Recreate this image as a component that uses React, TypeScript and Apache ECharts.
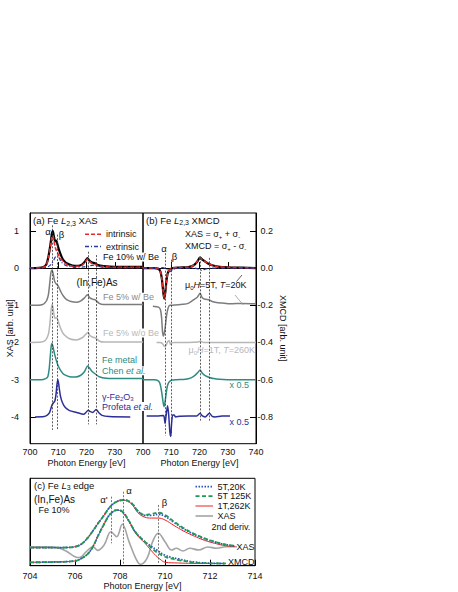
import React, { useEffect, useRef } from 'react';
import * as echarts from 'echarts';

const FONT = "'Liberation Sans', Arial, Helvetica, sans-serif";

// ---------- tick values ----------
const xasTicks = [-4, -3, -2, -1, 0, 1];
const xmcdTicks = [-0.8, -0.6, -0.4, -0.2, 0, 0.2];

// ---------- panel (a) XAS spectra [eV, value] ----------
const a10Total = [[700,0],[702,0],[704,0.01],[705,0.04],[705.8,0.1],[706.5,0.3],[707.2,0.62],[707.7,0.9],[708.05,1.0],[708.5,0.84],[708.9,0.72],[709.3,0.74],[709.7,0.64],[710.3,0.48],[711.2,0.3],[712,0.2],[713,0.13],[715,0.07],[717,0.06],[718.5,0.1],[719.5,0.18],[720.3,0.27],[721,0.2],[722,0.15],[723,0.13],[724,0.08],[726,0.05],[730,0.03],[735,0.03],[740,0.03]];
const a10Intrinsic = [[700,0],[704,0.01],[705,0.03],[705.8,0.08],[706.5,0.27],[707.2,0.58],[707.7,0.82],[708.05,0.88],[708.5,0.72],[708.9,0.56],[709.3,0.48],[709.7,0.41],[710.3,0.32],[711.2,0.22],[712,0.15],[713,0.1],[715,0.05],[717,0.05],[718.5,0.08],[719.5,0.15],[720.3,0.24],[721,0.18],[722,0.12],[723,0.1],[724,0.06],[726,0.04],[730,0.02],[740,0.02]];
const a10Extrinsic = [[700,0],[705,0.01],[706.5,0.04],[707.5,0.1],[708.3,0.2],[709,0.3],[709.6,0.35],[710.2,0.29],[711,0.17],[712,0.1],[713.5,0.05],[716,0.02],[719,0.03],[721,0.06],[722.5,0.08],[724,0.05],[726,0.02],[730,0.01],[740,0.01]];
const a5Be = [[700,-1.0],[703,-1.0],[704.5,-0.98],[705.3,-0.93],[705.9,-0.87],[706.5,-0.72],[707,-0.4],[707.4,-0.12],[707.8,-0.05],[708.2,-0.15],[708.7,-0.35],[709.3,-0.43],[709.8,-0.46],[710.3,-0.53],[711,-0.65],[711.8,-0.75],[713,-0.85],[714.5,-0.9],[716.5,-0.92],[718,-0.88],[719.3,-0.8],[720.3,-0.72],[721.2,-0.8],[722.3,-0.84],[723.2,-0.86],[724.5,-0.95],[726,-0.98],[730,-0.98],[735,-0.98],[740,-0.98]];
const a5NoBe = [[700,-2.0],[704,-1.99],[705.3,-1.95],[706,-1.88],[706.6,-1.75],[707.1,-1.45],[707.5,-1.1],[707.9,-0.98],[708.3,-1.15],[708.8,-1.35],[709.4,-1.33],[709.9,-1.4],[710.5,-1.55],[711.3,-1.7],[712.2,-1.8],[714,-1.9],[716.5,-1.93],[718.3,-1.88],[719.5,-1.8],[720.5,-1.73],[721.3,-1.82],[722.3,-1.86],[723.2,-1.88],[724.5,-1.96],[726,-1.99],[740,-1.99]];
const aFeMetal = [[700,-3.0],[704,-3.0],[705.5,-2.97],[706.3,-2.92],[706.8,-2.7],[707.2,-2.35],[707.5,-2.1],[707.75,-2.03],[708.1,-2.1],[708.6,-2.28],[709.3,-2.48],[710,-2.63],[711,-2.77],[712,-2.86],[714,-2.92],[716,-2.93],[718,-2.88],[719.3,-2.78],[720.4,-2.63],[721,-2.68],[722,-2.78],[723,-2.84],[724.5,-2.92],[727,-2.96],[732,-2.97],[740,-2.97]];
const aFe2O3 = [[701.8,-4.0],[705,-3.99],[706,-3.96],[706.8,-3.9],[707.3,-3.8],[707.8,-3.68],[708.3,-3.62],[708.8,-3.57],[709.2,-3.4],[709.6,-3.1],[709.9,-3.0],[710.3,-3.2],[710.8,-3.45],[711.5,-3.62],[712.5,-3.75],[714,-3.83],[716.5,-3.88],[719,-3.93],[719.8,-3.88],[720.6,-3.82],[721.4,-3.86],[722.2,-3.88],[723.4,-3.8],[724.3,-3.88],[725.5,-3.96],[728,-3.99],[735.5,-4.0]];
const aMarkers = [[707.9, 1.15, -4.35], [709.7, 0.9, -4.35], [720.6, 0.44, -4.2], [723.4, 0.35, -4.2]];

// ---------- panel (b) XMCD spectra [eV, value] ----------
const b10Total = [[700,0],[704,0],[705.5,-0.005],[706.2,-0.02],[706.7,-0.06],[707.1,-0.12],[707.5,-0.165],[707.9,-0.13],[708.3,-0.07],[708.8,-0.025],[709.5,-0.008],[710.5,0],[713,0.003],[716,0.005],[718,0.015],[719.2,0.035],[720.2,0.057],[721,0.045],[722,0.035],[723,0.025],[724.5,0.015],[726.5,0.008],[730,0.004],[735,0.002],[740,0]];
const b10Intrinsic = [[700,0],[704,0],[705.5,-0.005],[706.2,-0.02],[706.7,-0.06],[707.1,-0.12],[707.5,-0.16],[707.9,-0.13],[708.3,-0.07],[708.8,-0.025],[709.5,-0.008],[710.5,0],[713,0.003],[716,0.005],[718,0.015],[719.2,0.035],[720.2,0.055],[721,0.045],[722,0.035],[723,0.025],[724.5,0.015],[726.5,0.008],[730,0.004],[740,0]];
const b10Extrinsic = [[700,0],[705,0],[707,0.002],[708.5,-0.008],[709.5,-0.02],[710.3,-0.012],[711.5,-0.003],[714,0],[718,0],[719.5,-0.005],[720.8,-0.012],[722,-0.006],[724,0],[740,0]];
const b5Be = [[703.5,-0.205],[705.5,-0.21],[706.2,-0.225],[706.6,-0.27],[706.9,-0.34],[707.2,-0.365],[707.6,-0.345],[708,-0.3],[708.4,-0.25],[708.9,-0.215],[709.5,-0.2],[710.2,-0.2],[711.5,-0.198],[714,-0.195],[716,-0.19],[718,-0.17],[719.3,-0.155],[720.2,-0.135],[721,-0.16],[722,-0.168],[723.3,-0.17],[724.5,-0.18],[726,-0.185],[728,-0.188],[731,-0.192],[735,-0.19],[740,-0.192]];
const b5NoBe = [[704.8,-0.4],[706,-0.4],[706.8,-0.405],[707.4,-0.418],[707.9,-0.42],[708.3,-0.41],[708.8,-0.395],[709.3,-0.39],[709.7,-0.41],[710.2,-0.402],[711,-0.4],[716,-0.4],[719.5,-0.398],[720.3,-0.393],[721.5,-0.4],[740,-0.4]];
const bFeMetal = [[700,-0.6],[704,-0.6],[705.3,-0.605],[706,-0.62],[706.6,-0.665],[707.1,-0.72],[707.45,-0.745],[707.8,-0.72],[708.2,-0.675],[708.7,-0.63],[709.4,-0.61],[710.3,-0.602],[712,-0.6],[715,-0.598],[717,-0.59],[718.5,-0.575],[719.5,-0.56],[720.2,-0.548],[721,-0.565],[722,-0.578],[723.5,-0.588],[725,-0.594],[727,-0.598],[730,-0.6],[740,-0.6]];
const bFe2O3 = [[701.3,-0.795],[705,-0.795],[707.2,-0.792],[707.5,-0.8],[707.8,-0.835],[708.2,-0.79],[708.7,-0.74],[709.1,-0.79],[709.5,-0.88],[709.8,-0.905],[710.1,-0.84],[710.5,-0.79],[711,-0.79],[711.5,-0.8],[713,-0.797],[716,-0.795],[719,-0.795],[720.2,-0.78],[721,-0.795],[722,-0.8],[723.5,-0.78],[724.5,-0.797],[725.5,-0.8],[728,-0.795],[730.8,-0.795]];
const bMarkers = [[707.8, 0.08, -0.9], [709.9, 0.045, -0.9], [720.2, 0.055, -0.82], [723.3, 0.055, -0.82]];

// ---------- panel (c) L3 edge [eV, arb] ----------
const cXas20K = [[704,20.6],[705,20.6],[705.6,20.8],[706,21.7],[706.3,25],[706.6,33],[706.8,40],[707.04,49],[707.3,58],[707.5,65.5],[707.8,72.5],[708.15,75.2],[708.5,71.7],[708.8,62.5],[709.1,57.5],[709.4,57.5],[709.7,58.8],[710,56.3],[710.4,49.5],[710.8,42.5],[711.2,37],[711.6,32.5],[711.9,29.5],[712.3,26.5],[712.6,24.5],[713.1,22.5]];
const cXas125K = [[704,20.6],[705,20.6],[705.6,20.8],[706,21.7],[706.3,25],[706.6,33],[706.8,40],[707.04,49],[707.3,58],[707.5,65.5],[707.8,72.5],[708.15,75.2],[708.5,71.7],[708.8,62.5],[709.1,58],[709.4,59.2],[709.7,60.6],[710,58],[710.4,50.5],[710.8,43.5],[711.2,37.6],[711.6,33],[711.9,29.8],[712.3,26.8],[712.6,24.7],[713.1,22.6]];
const cXas262K = [[704,20.6],[705,20.6],[705.6,20.8],[706,21.7],[706.3,25],[706.6,33],[706.8,40],[707.04,49],[707.3,58],[707.5,65.5],[707.8,72.5],[708.15,75],[708.5,71],[708.8,60.5],[709.1,55.5],[709.4,54.5],[709.7,54.5],[710,52.3],[710.4,46],[710.8,40],[711.2,35],[711.6,30.5],[711.9,27.8],[712.3,25],[712.6,23.2],[713.1,21.8]];
const cXmcd20K = [[704,3.9],[705,4.2],[706,5.4],[706.3,8.5],[706.6,14.5],[706.8,22],[707.04,35],[707.3,48],[707.5,57],[707.7,62],[707.85,63.7],[708.1,62],[708.4,51],[708.7,38],[709.1,27.5],[709.4,22],[709.6,18.5],[710,12],[710.3,9.5],[710.6,7.7],[711.2,4.5],[711.9,2.9],[712.7,2.5]];
const cXmcd125K = [[704,3.9],[705,4.2],[706,5.4],[706.3,8.5],[706.6,14.5],[706.8,22],[707.04,35],[707.3,48],[707.5,57],[707.7,62],[707.85,63.7],[708.1,62],[708.4,51],[708.7,38],[709.1,27.5],[709.4,20.5],[709.6,16],[710,10.3],[710.3,8],[710.6,6.5],[711.2,4],[711.9,2.8],[712.7,2.5]];
const cXmcd262K = [[704,3.9],[705,4.2],[706,5.4],[706.3,8.5],[706.6,14.5],[706.8,22],[707.04,35],[707.3,48],[707.5,57],[707.7,62],[707.85,63.5],[708.1,61.5],[708.4,50.5],[708.7,37],[709.1,26],[709.4,17],[709.6,11.4],[709.85,6],[710,3.9],[710.6,3.1],[711.2,2.7],[711.9,2.6],[712.7,2.5]];
const cDeriv = [[704,21.7],[704.8,21.7],[705.2,20.8],[705.6,16.8],[706,10.3],[706.2,9.2],[706.5,16],[706.8,21.7],[707,17.5],[707.3,24],[707.6,38.9],[707.85,33.2],[708.1,47.4],[708.4,27.5],[708.7,8.5],[708.9,1.6],[709.2,8.5],[709.45,27.5],[709.7,37.1],[710,27.5],[710.3,18],[710.5,19.9],[710.8,16.8],[711.1,19.9],[711.5,18],[711.9,21.4],[712.3,19.9],[712.7,21.7],[713.2,21.7]];
const cMarkers = [[707.6, 79, 25.6], [708.15, 84.7, 2], [709.7, 69.5, 2]];

// ---------- colours ----------
const C_RED = '#e82a2a';
const C_BLUE = '#2b3a9e';
const C_GRAY = '#7c7c7c';
const C_LGRAY = '#b6b6b6';
const C_TEAL = '#2e8b82';
const C_NAVY = '#2c2e98';

function richFor(color: string, size: number) {
  const base = { fill: color, color, fontSize: size, fontFamily: FONT };
  return {
    n: { ...base },
    i: { ...base, fontStyle: 'italic' },
    s: { ...base, fontSize: Math.round(size * 0.72), padding: [Math.round(size * 0.5), 0, 0, 0] },
  };
}

function T(x: number, y: number, text: string, color: string, size = 9, align = 'left', extra: any = {}) {
  return {
    type: 'text', x, y, z: 20, silent: true,
    style: { text, fill: color, fontSize: size, fontFamily: FONT, align, verticalAlign: 'middle', rich: richFor(color, size), ...extra },
  };
}
function L(x1: number, y1: number, x2: number, y2: number, stroke: string, lineWidth = 1, lineDash: any = null) {
  return { type: 'line', z: 20, silent: true, shape: { x1, y1, x2, y2 }, style: { stroke, lineWidth, lineDash } };
}

function markers(list: number[][], color = '#333') {
  return {
    silent: true, symbol: ['none', 'none'], label: { show: false },
    lineStyle: { type: [2, 1.5], color, width: 0.8 },
    data: list.map(([x, y1, y2]) => [{ coord: [x, y1] }, { coord: [x, y2] }]),
  };
}

function line(data: number[][], xi: number, color: string, width: number, type: any = 'solid', smooth = 0.25, extra: any = {}) {
  return {
    type: 'line', xAxisIndex: xi, yAxisIndex: xi, data, showSymbol: false, symbol: 'none', smooth,
    lineStyle: { color, width, type }, silent: true, ...extra,
  };
}

export default function App() {
  const ref = useRef<HTMLDivElement>(null);
  useEffect(() => {
    if (!ref.current) return;
    const chart = echarts.init(ref.current, null, { renderer: 'svg' });
    const axLine = { show: true, lineStyle: { color: '#000', width: 1 } };
    const tick = { show: true, inside: true, length: 6, lineStyle: { color: '#000', width: 1 } };
    const lbl = { fontFamily: FONT, fontSize: 9, color: '#111' };
    const nameStyle = { fontFamily: FONT, fontSize: 9, color: '#111' };
    const gridBase = { show: true, borderColor: '#000', borderWidth: 1, backgroundColor: 'transparent', containLabel: false, outerBoundsMode: 'none' };
    const xBase = (gi: number, min: number, max: number, interval: number, margin: number, nameGap: number, showMax: boolean) => ({
      gridIndex: gi, type: 'value', min, max, interval,
      axisLine: axLine, axisTick: tick, splitLine: { show: false },
      axisLabel: { ...lbl, margin, showMaxLabel: showMax, showMinLabel: true },
      name: 'Photon Energy [eV]', nameLocation: 'middle', nameGap, nameMoveOverlap: false, nameTextStyle: nameStyle,
    });

    const option: any = {
      animation: false,
      grid: [
        { ...gridBase, left: 30, top: 213, width: 113, height: 230.7 },
        { ...gridBase, left: 143, top: 213, width: 113, height: 230.7 },
        { ...gridBase, left: 30, top: 478.3, width: 225, height: 87.4 },
      ],
      xAxis: [
        xBase(0, 700, 740, 10, 4, 15, false),
        xBase(1, 700, 740, 10, 4, 15, true),
        xBase(2, 704, 714, 2, 6, 16, true),
      ],
      yAxis: [
        {
          gridIndex: 0, type: 'value', min: -4.72, max: 1.48,
          axisLine: axLine, axisTick: { ...tick, customValues: xasTicks }, splitLine: { show: false },
          axisLabel: { ...lbl, margin: 11, customValues: xasTicks },
          name: 'XAS [arb. unit]', nameLocation: 'middle', nameRotate: 90, nameGap: 16, nameMoveOverlap: false, nameTextStyle: nameStyle,
        },
        {
          gridIndex: 1, type: 'value', position: 'right', min: -0.944, max: 0.296,
          axisLine: axLine, axisTick: { ...tick, customValues: xmcdTicks }, splitLine: { show: false },
          axisLabel: { ...lbl, margin: 17, align: 'right', customValues: xmcdTicks, formatter: (v: number) => v.toFixed(1) },
          name: 'XMCD [arb. unit]', nameLocation: 'middle', nameRotate: -90, nameGap: 22.5, nameMoveOverlap: false, nameTextStyle: nameStyle,
        },
        {
          gridIndex: 2, type: 'value', min: 0, max: 100,
          axisLine: axLine, axisTick: { show: false }, axisLabel: { show: false }, splitLine: { show: false },
        },
      ],
      series: [
        // panel a
        line(a10Total, 0, '#000', 2.2, 'solid', 0.25, { markLine: markers(aMarkers) }),
        line(a10Intrinsic, 0, C_RED, 1.6, [4, 2]),
        line(a10Extrinsic, 0, C_BLUE, 1.2, [4, 2, 1, 2]),
        line(a5Be, 0, C_GRAY, 1.5),
        line(a5NoBe, 0, C_LGRAY, 1.5),
        line(aFeMetal, 0, C_TEAL, 1.5),
        line(aFe2O3, 0, C_NAVY, 1.5),
        // panel b
        line(b10Total, 1, '#000', 2.2, 'solid', 0.25, { markLine: markers(bMarkers) }),
        line(b10Intrinsic, 1, C_RED, 1.6, [4, 2]),
        line(b10Extrinsic, 1, C_BLUE, 1.2, [4, 2, 1, 2]),
        line(b5Be, 1, C_GRAY, 1.5),
        line(b5NoBe, 1, C_LGRAY, 1.5),
        line(bFeMetal, 1, C_TEAL, 1.5),
        line(bFe2O3, 1, C_NAVY, 1.5),
        // panel c
        line(cDeriv, 2, '#a4a4a4', 1.6, 'solid', 0.4, { markLine: markers(cMarkers, '#555') }),
        line(cXas262K, 2, '#ee2222', 1, 'solid', 0.4),
        line(cXmcd262K, 2, '#ee2222', 1, 'solid', 0.4),
        line(cXas20K, 2, '#2b55bd', 1.8, [1.5, 1.5], 0.4),
        line(cXmcd20K, 2, '#2b55bd', 1.8, [1.5, 1.5], 0.4),
        line(cXas125K, 2, '#1d9a55', 1.8, [4, 2.5], 0.4),
        line(cXmcd125K, 2, '#1d9a55', 1.8, [4, 2.5], 0.4),
      ],
      graphic: [
        // panel a texts
        T(33, 220.5, '{n|(a) Fe }{i|L}{s|2,3}{n| XAS}', '#111', 9.5),
        T(48, 231.5, '{n|α}', '#111', 9.5, 'center'),
        T(61.5, 234, '{n|β}', '#111', 9.5, 'center'),
        L(85, 234.3, 101.7, 234.3, C_RED, 1.6, [4, 2]),
        T(106, 234.3, '{n|intrinsic}', '#111', 9),
        L(85, 246.5, 101.7, 246.5, C_BLUE, 1.3, [4, 2, 1, 2]),
        T(106, 246.5, '{n|extrinsic}', '#111', 9),
        T(103, 257, '{n|Fe 10% w/ Be}', '#111', 9, 'left', { backgroundColor: '#fff' }),
        T(76.5, 282.3, '{n|(In,Fe)As}', '#111', 10),
        T(103, 297.3, '{n|Fe 5% w/ Be}', '#8a8a8a', 9, 'left', { backgroundColor: '#fff' }),
        T(103, 333, '{n|Fe 5% w/o Be}', '#b8b8b8', 9, 'left', { backgroundColor: '#fff' }),
        T(102, 360, '{n|Fe metal}', C_TEAL, 9),
        T(102, 370.7, '{n|Chen }{i|et al.}', C_TEAL, 9, 'left', { backgroundColor: '#fff' }),
        T(102, 396.7, '{n|γ-Fe}{s|2}{n|O}{s|3}', C_NAVY, 9),
        T(102, 406.5, '{n|Profeta }{i|et al.}', C_NAVY, 9, 'left', { backgroundColor: '#fff' }),
        // panel b texts
        T(146, 220, '{n|(b) Fe }{i|L}{s|2,3}{n| XMCD}', '#111', 9.5),
        T(164, 248.3, '{n|α}', '#111', 9.5, 'center'),
        T(174.5, 256.5, '{n|β}', '#111', 9.5, 'center'),
        T(185, 234.3, '{n|XAS = σ}{s|+}{n| + σ}{s|-}', '#111', 9),
        T(185, 246.3, '{n|XMCD = σ}{s|+}{n| - σ}{s|-}', '#111', 9),
        T(185, 285, '{n|μ}{s|0}{i|H}{n|=5T, }{i|T}{n|=20K}', '#111', 9),
        L(236.5, 281.5, 242, 275, '#333', 0.8),
        L(235, 295, 243.3, 305, '#999', 0.8),
        T(188.5, 350, '{n|μ}{s|0}{i|H}{n|=1T, }{i|T}{n|=260K}', '#b8b8b8', 9),
        T(229.5, 385, '{n|x 0.5}', C_TEAL, 9),
        T(229.5, 421.7, '{n|x 0.5}', C_NAVY, 9),
        // panel c texts
        T(34, 485, '{n|(c) Fe }{i|L}{s|3}{n| edge}', '#111', 9.5),
        T(34, 499, '{n|(In,Fe)As}', '#111', 10),
        T(38.5, 510, '{n|Fe 10%}', '#111', 9),
        T(104, 499, "{n|α'}", '#111', 9.5, 'center'),
        T(129, 490.5, '{n|α}', '#111', 9.5, 'center'),
        T(164.5, 502.5, '{n|β}', '#111', 9.5, 'center'),
        L(195.5, 486.7, 213, 486.7, '#2b55bd', 1.8, [1.5, 1.5]),
        T(217.5, 486.7, '{n|5T,20K}', '#111', 9),
        L(195.5, 496.2, 213, 496.2, '#1d9a55', 1.8, [4, 2.5]),
        T(217.5, 496.2, '{n|5T 125K}', '#111', 9),
        L(195.5, 506, 213, 506, '#ee2222', 1),
        T(217.5, 506, '{n|1T,262K}', '#111', 9),
        L(195.5, 516, 213, 516, '#a4a4a4', 1.6),
        T(217.5, 516, '{n|XAS}', '#111', 9),
        T(211.5, 526.7, '{n|2nd deriv.}', '#111', 9),
        T(254.5, 546.7, '{n|XAS}', '#111', 9, 'right'),
        T(254.5, 562.3, '{n|XMCD}', '#111', 9, 'right'),
      ],
    };
    chart.setOption(option);
    return () => chart.dispose();
  }, []);
  return <div ref={ref} style={{ position: 'absolute', left: 0, top: 0, width: 458, height: 592 }} />;
}
